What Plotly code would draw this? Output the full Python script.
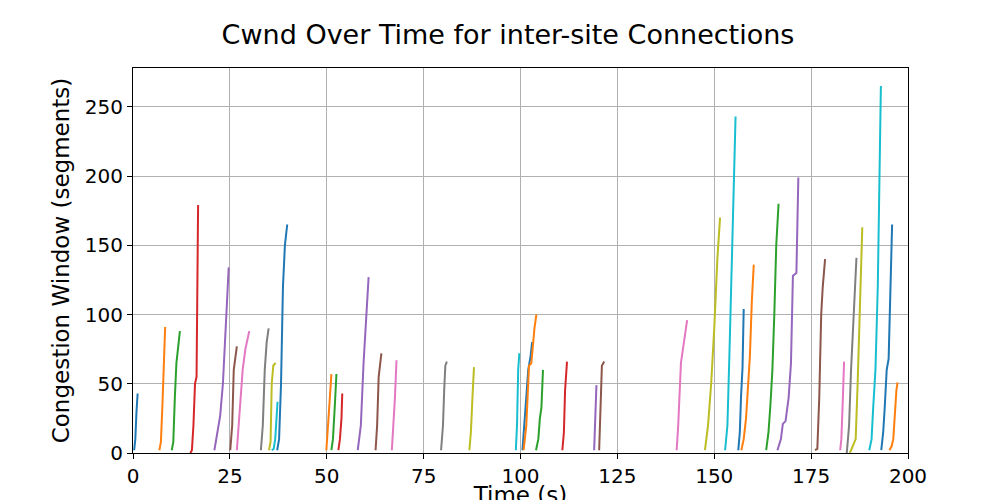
import plotly.graph_objects as go

T10 = ["#1f77b4","#ff7f0e","#2ca02c","#d62728","#9467bd","#8c564b","#e377c2","#7f7f7f","#bcbd22","#17becf"]

# (color index, times, cwnd)
conn_color = [0,1,2,3,4,5,6,7,8,9,0, 1,2,3,4,5,6,7,8,9,0,1,2,3,4,5,6, 8,9,0,1,2,4,5,6,7,8,9,0,1]
conn_times = [
 [0.3,0.6,0.9,1.2],
 [6.8,7.2,7.6,8.0,8.3],
 [10.0,10.4,10.8,11.2,11.6,12.1],
 [14.8,15.2,15.6,16.0,16.4,16.8],
 [21.0,21.8,22.5,23.2,24.0,24.7],
 [25.1,25.6,26.0,26.4,26.8],
 [26.8,27.3,27.8,28.3,29.0,30.0],
 [33.0,33.5,34.0,34.5,35.0],
 [35.1,35.5,35.8,36.2,36.8],
 [35.8,36.3,36.7,37.1,37.3],
 [37.2,37.7,38.2,38.7,39.2,39.8],
 [49.9,50.4,50.8,51.2],
 [51.2,51.6,52.1,52.5],
 [53.0,53.4,53.8,54.0],
 [58.0,58.8,59.5,60.2,60.8],
 [62.6,63.0,63.4,63.8,64.1],
 [66.8,67.2,67.6,68.0],
 [79.5,80.0,80.3,80.6,81.0],
 [86.8,87.2,87.6,88.0],
 [98.8,99.1,99.4,99.7],
 [100.5,101.2,102.0,102.6,103.0],
 [100.8,101.5,102.2,102.8,103.6,104.1],
 [104.0,104.6,105.0,105.4,105.8],
 [110.8,111.2,111.5,112.0],
 [119.0,119.3,119.6],
 [120.3,120.7,121.0,121.6],
 [140.3,140.7,141.4,142.2,143.0],
 [147.6,148.4,149.2,150.0,150.8,151.5],
 [152.8,153.4,154.0,154.6,155.2,155.5],
 [156.2,156.6,156.9,157.3,157.6],
 [157.0,157.6,158.2,158.7,159.2,159.7,160.2],
 [163.4,164.0,164.5,165.0,165.5,166.0,166.6],
 [166.3,166.8,167.2,167.7,168.4,169.2,169.8,170.3,171.2,171.7],
 [176.0,176.6,177.1,177.6,178.0,178.6],
 [182.5,182.8,183.2,183.5],
 [184.2,184.8,185.3,185.8,186.2,186.7],
 [185.0,185.8,186.5,187.0,187.6,188.2],
 [190.0,190.6,191.0,191.6,192.2,192.6,193.0],
 [193.1,193.6,194.0,194.5,195.0,195.5,195.9],
 [195.2,195.8,196.2,196.6,197.0,197.3],
]
conn_cwnd = [
 [2,10,30,43],
 [2,8,35,70,91],
 [2,8,40,65,75,88],
 [0,2,20,50,55,179],
 [2,15,27,50,90,134],
 [2,20,60,68,77],
 [2,20,40,60,75,88],
 [2,20,60,80,90],
 [2,8,50,63,65],
 [2,3,10,25,37],
 [2,10,50,120,150,165],
 [2,20,40,57],
 [2,10,35,57],
 [2,10,25,43],
 [2,20,65,100,127],
 [2,20,55,65,72],
 [2,20,40,67],
 [2,20,45,63,66],
 [2,15,40,62],
 [2,20,60,72],
 [2,30,60,70,80],
 [2,20,63,65,90,100],
 [2,10,25,33,60],
 [2,15,45,66],
 [2,30,49],
 [2,30,63,66],
 [2,20,65,80,96],
 [2,20,50,90,140,170],
 [2,20,80,150,210,243],
 [2,15,40,62,104],
 [2,10,25,47,70,110,136],
 [2,15,35,60,100,150,180],
 [2,7,10,21,23,40,65,128,130,199],
 [2,3,40,100,120,140],
 [2,10,40,66],
 [0,20,60,90,110,141],
 [0,5,10,50,100,163],
 [2,10,32,60,120,210,265],
 [2,15,33,60,68,130,165],
 [2,5,10,30,45,51],
]

fig = go.Figure()
for c, t, w in zip(conn_color, conn_times, conn_cwnd):
    fig.add_trace(go.Scatter(x=t, y=w, mode="lines", line=dict(color=T10[c], width=2), showlegend=False))

ax = dict(showline=True, linecolor="black", mirror=True, showgrid=True, gridcolor="#b0b0b0",
          ticks="outside", tickcolor="black", ticklen=5, zeroline=False, automargin=False,
          tickfont=dict(size=20, color="black"), title_font=dict(size=23, color="black"))
fig.update_layout(
    width=1000, height=500, plot_bgcolor="white", paper_bgcolor="white",
    font=dict(family="DejaVu Sans", color="black"),
    title=dict(text="Cwnd Over Time for inter-site Connections", x=0.5, y=0.965, xanchor="center",
               font=dict(size=27, color="black")),
    margin=dict(l=125, r=100, t=60, b=55),
    xaxis=dict(ax, range=[0,200], dtick=25, title=dict(text="Time (s)", standoff=4)),
    yaxis=dict(ax, range=[0,278], dtick=50, title=dict(text="Congestion Window (segments)", standoff=8)),
)
fig.write_html("out.html")
